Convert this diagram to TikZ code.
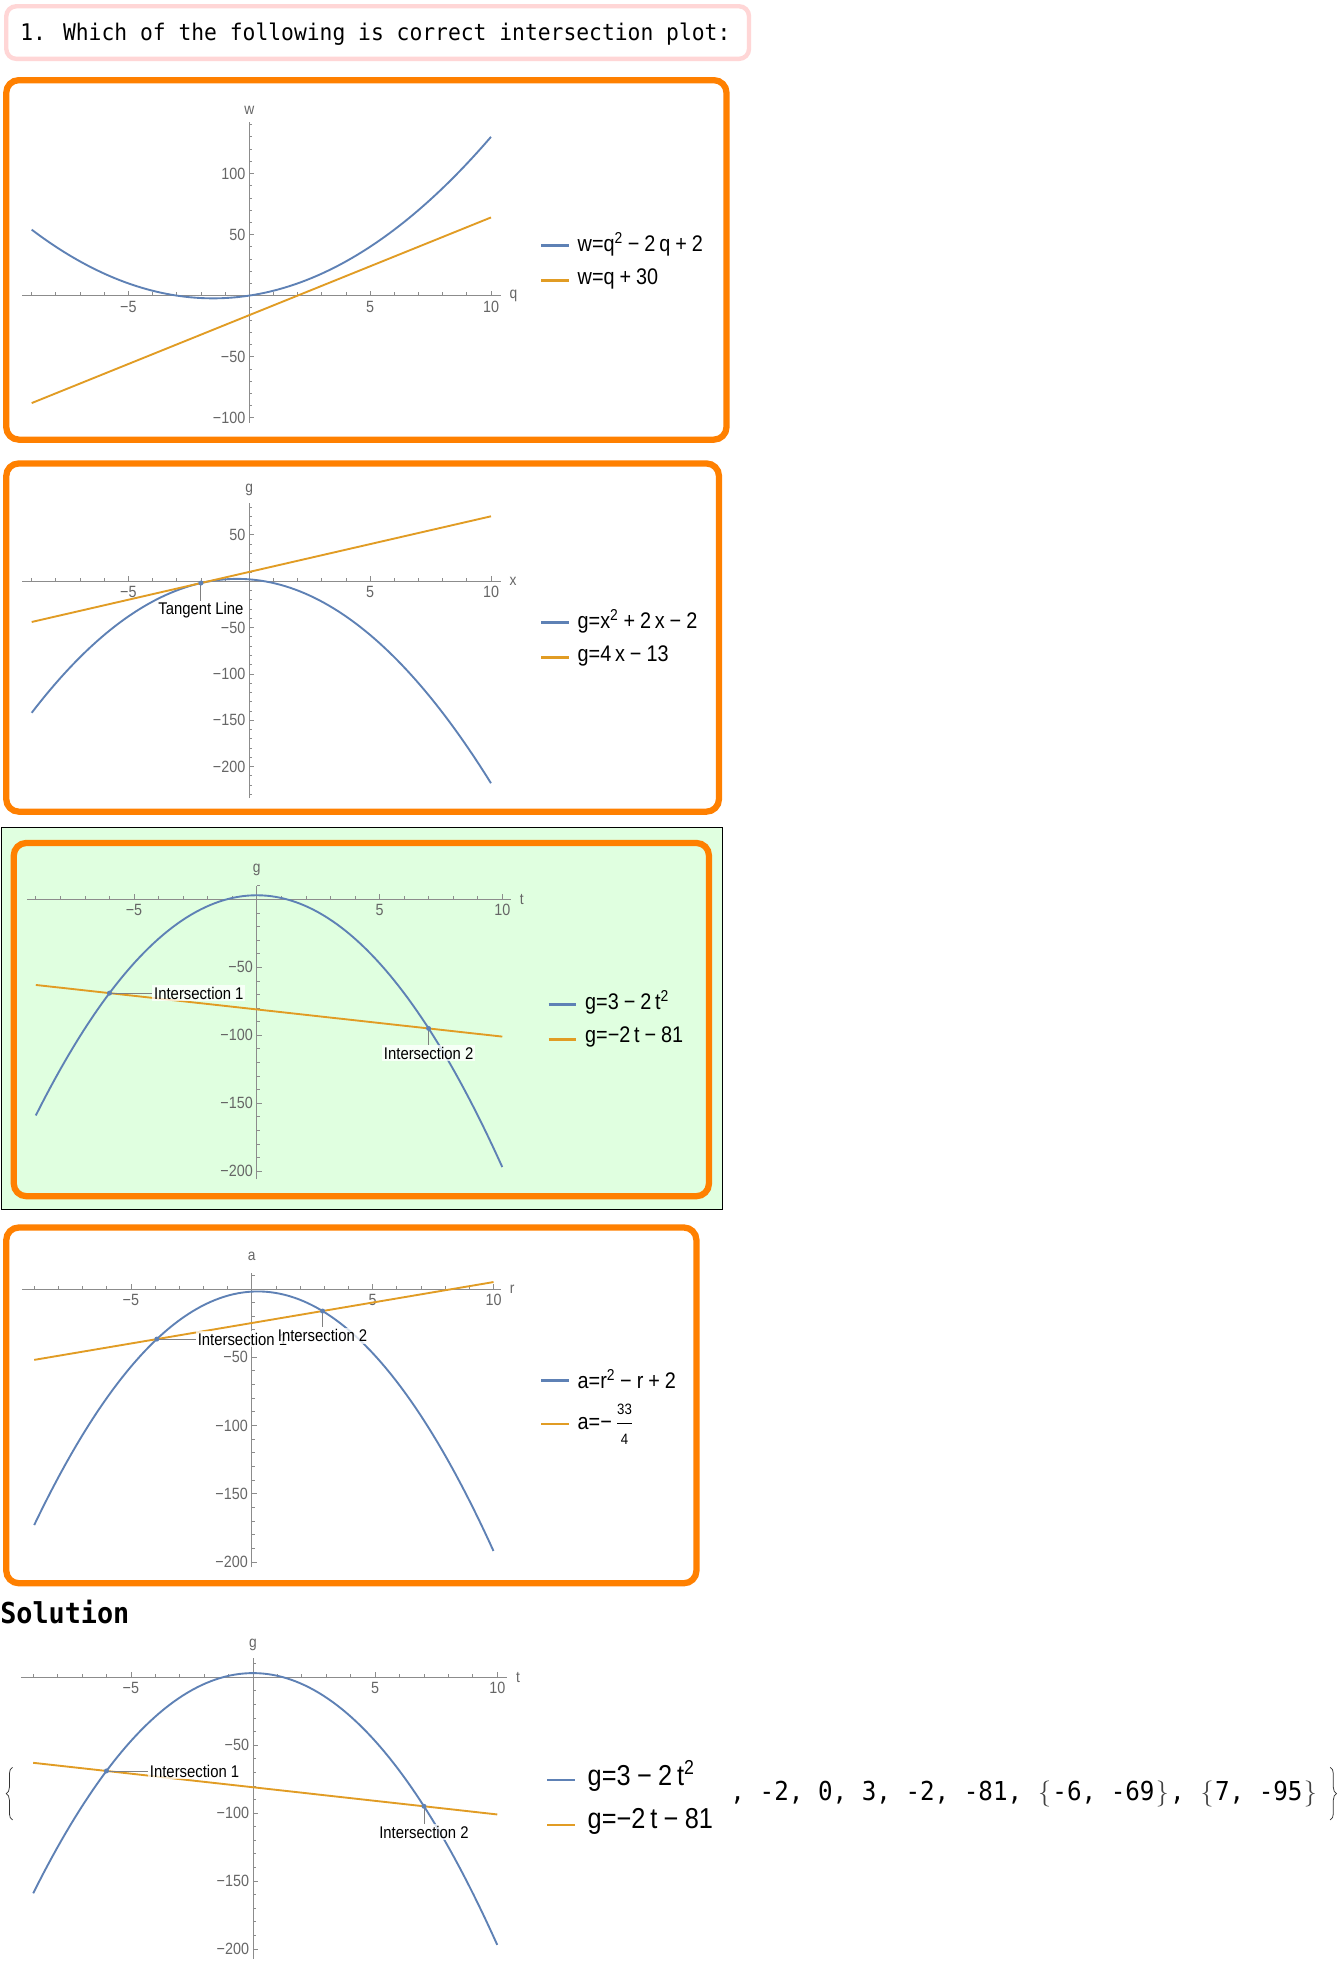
\documentclass[tikz,border=0pt]{standalone}
\usepackage{fontspec}
\usepackage{amsmath}
\usetikzlibrary{calc,decorations.pathreplacing}
\newfontfamily\myplot{Liberation Sans}[FakeStretch=0.88]
\newfontfamily\mymono{DejaVu Sans Mono}[FakeStretch=0.93]
\definecolor{mblue}{RGB}{94,129,181}
\definecolor{morange}{RGB}{225,156,36}
\definecolor{frameorange}{RGB}{255,128,0}
\definecolor{pinkframe}{RGB}{255,214,214}
\definecolor{greenbg}{RGB}{224,255,224}
\newcommand{\gp}{\hspace{0.22em}}
\newcommand{\lbr}{\makebox[0.6em]{\color{black!75}\rmfamily\textbraceleft}}
\newcommand{\rbr}{\makebox[0.6em]{\color{black!75}\rmfamily\textbraceright}}
\tikzset{
 axisline/.style={draw=black!45,line width=0.6pt},
 ticklbl/.style={font=\myplot\fontsize{13}{15}\selectfont,text=black!60,inner sep=1pt},
 axlbl/.style={font=\myplot\fontsize{12.5}{15}\selectfont,text=black!60,inner sep=1pt},
 bcurve/.style={draw=mblue,line width=1.5pt},
 ocurve/.style={draw=morange,line width=1.5pt},
 panelbox/.style={draw=frameorange,line width=5pt,rounded corners=10pt},
 leglbl/.style={font=\myplot\fontsize{18}{21}\selectfont,anchor=west,inner sep=0pt},
 bigleg/.style={font=\myplot\fontsize{23}{27}\selectfont,anchor=west,inner sep=0pt},
 bseg/.style={draw=mblue,line width=2pt},
 oseg/.style={draw=morange,line width=2pt},
 callout/.style={draw=black!50,line width=0.7pt},
 ilbl/.style={font=\myplot\fontsize{13.5}{15}\selectfont,fill=white,fill opacity=0.75,text opacity=1,inner sep=1.5pt},
 idot/.style={fill=mblue},
 bigbrace/.style={draw=black!80,line width=0.6pt,decorate,decoration={brace,amplitude=5pt}},
}
\begin{document}
\begin{tikzpicture}[x=1pt,y=-1pt]
\useasboundingbox (0,0) rectangle (1072,1568);
\fill[white] (0,0) rectangle (1072,1568);

% title
\draw[draw=pinkframe,line width=3.5pt,rounded corners=8pt,fill=white] (5,5) rectangle (598,47);
\node[anchor=west,inner sep=0pt,font=\mymono\fontsize{18.3}{22}\selectfont] (title) at (16,27) {1. Which of the following is correct intersection plot:};

% ---------------- Panel 1
\draw[panelbox] (5,64) rectangle (580,351);
\begin{scope}[shift={(199,236)},x=19.3pt,y=0.975pt]
\draw[axisline] (-9.4,0) -- (10.4,0);
\draw[axisline] (0,-104) -- (0,142);
\foreach \t in {-9,...,10} \draw[axisline] (\t,0) -- ++(0,2.5pt);
\foreach \t in {-5,5,10} \draw[axisline] (\t,0) -- ++(0,4pt);
\foreach \v in {-100,-90,...,140} \draw[axisline] (0,\v) -- ++(2.5pt,0);
\foreach \v in {-100,-50,50,100} \draw[axisline] (0,\v) -- ++(4pt,0);
\node[ticklbl,anchor=north,yshift=-3pt] (p1xa) at (-5,0) {−5};
\node[ticklbl,anchor=north,yshift=-3pt] (p1xb) at (5,0) {5};
\node[ticklbl,anchor=north,yshift=-3pt] (p1xc) at (10,0) {10};
\node[ticklbl,anchor=east,xshift=-2pt] (p1ya) at (0,100) {100};
\node[ticklbl,anchor=east,xshift=-2pt] (p1yb) at (0,50) {50};
\node[ticklbl,anchor=east,xshift=-2pt] (p1yc) at (0,-50) {−50};
\node[ticklbl,anchor=east,xshift=-2pt] (p1yd) at (0,-100) {−100};
\node[axlbl,anchor=south,yshift=5pt] (p1w) at (0,142) {w};
\node[axlbl,anchor=west,xshift=6pt] (p1q) at (10.4,0) {q};
\draw[bcurve] plot[domain=-9:10,samples=100] (\x,{\x*\x+3*\x});
\draw[ocurve] plot[domain=-9:10,samples=2] (\x,{8*\x-16});
\end{scope}
\draw[bseg] (432,196) -- (454,196);
\node[leglbl] (p1la) at (461,195) {w=q\textsuperscript{2}\gp−\gp2\,q\gp+\gp2};
\draw[oseg] (432,224) -- (454,224);
\node[leglbl] (p1lb) at (461,223) {w=q\gp+\gp30};

% ---------------- Panel 2
\draw[panelbox] (5,370) rectangle (574,648);
\begin{scope}[shift={(199,464)},x=19.3pt,y=0.74pt]
\draw[axisline] (-9.4,0) -- (10.4,0);
\draw[axisline] (0,-234) -- (0,84);
\foreach \t in {-9,...,10} \draw[axisline] (\t,0) -- ++(0,2.5pt);
\foreach \t in {-5,5,10} \draw[axisline] (\t,0) -- ++(0,4pt);
\foreach \v in {-230,-220,...,80} \draw[axisline] (0,\v) -- ++(2.5pt,0);
\foreach \v in {-200,-150,-100,-50,50} \draw[axisline] (0,\v) -- ++(4pt,0);
\node[ticklbl,anchor=north,yshift=-3pt] (p2xa) at (-5,0) {−5};
\node[ticklbl,anchor=north,yshift=-3pt] (p2xb) at (5,0) {5};
\node[ticklbl,anchor=north,yshift=-3pt] (p2xc) at (10,0) {10};
\node[ticklbl,anchor=east,xshift=-2pt] (p2ya) at (0,50) {50};
\node[ticklbl,anchor=east,xshift=-2pt] (p2yb) at (0,-50) {−50};
\node[ticklbl,anchor=east,xshift=-2pt] (p2yc) at (0,-100) {−100};
\node[ticklbl,anchor=east,xshift=-2pt] (p2yd) at (0,-150) {−150};
\node[ticklbl,anchor=east,xshift=-2pt] (p2ye) at (0,-200) {−200};
\node[axlbl,anchor=south,yshift=5pt] (p2g) at (0,84) {g};
\node[axlbl,anchor=west,xshift=6pt] (p2x) at (10.4,0) {x};
\draw[bcurve] plot[domain=-9:10,samples=100] (\x,{-2*\x*\x-2*\x+2});
\draw[ocurve] plot[domain=-9:10,samples=2] (\x,{6*\x+10});
\coordinate (p2t) at (-2,-2);
\node[ilbl,anchor=north,yshift=-14pt] (p2tl) at (p2t) {Tangent Line};
\draw[callout] (p2t) -- (p2tl.north);
\fill[idot] (p2t) circle (2pt);
\end{scope}
\draw[bseg] (432,497) -- (454,497);
\node[leglbl] (p2la) at (461,496) {g=x\textsuperscript{2}\gp+\gp2\,x\gp−\gp2};
\draw[oseg] (432,525) -- (454,525);
\node[leglbl] (p2lb) at (461,524) {g=4\,x\gp−\gp13};

% ---------------- Panel 3
\draw[black,line width=0.8pt,fill=greenbg] (1,661) rectangle (577,966);
\draw[panelbox,fill=greenbg] (11,673) rectangle (566,955);
\begin{scope}[shift={(205,718)},x=19.6pt,y=1.085pt]
\draw[axisline] (-9.35,0) -- (10.35,0);
\draw[axisline] (0,-206) -- (0,10);
\foreach \t in {-9,...,10} \draw[axisline] (\t,0) -- ++(0,2.5pt);
\foreach \t in {-5,5,10} \draw[axisline] (\t,0) -- ++(0,4pt);
\foreach \v in {-200,-190,...,10} \draw[axisline] (0,\v) -- ++(2.5pt,0);
\foreach \v in {-200,-150,-100,-50} \draw[axisline] (0,\v) -- ++(4pt,0);
\node[ticklbl,anchor=north,yshift=-3pt] (p3xa) at (-5,0) {−5};
\node[ticklbl,anchor=north,yshift=-3pt] (p3xb) at (5,0) {5};
\node[ticklbl,anchor=north,yshift=-3pt] (p3xc) at (10,0) {10};
\node[ticklbl,anchor=east,xshift=-2pt] (p3ya) at (0,-50) {−50};
\node[ticklbl,anchor=east,xshift=-2pt] (p3yb) at (0,-100) {−100};
\node[ticklbl,anchor=east,xshift=-2pt] (p3yc) at (0,-150) {−150};
\node[ticklbl,anchor=east,xshift=-2pt] (p3yd) at (0,-200) {−200};
\node[axlbl,anchor=south,yshift=7pt] (p3g) at (0,10) {g};
\node[axlbl,anchor=west,xshift=6pt] (p3t) at (10.35,0) {t};
\draw[bcurve] plot[domain=-9:10,samples=100] (\x,{3-2*\x*\x});
\draw[ocurve] plot[domain=-9:10,samples=2] (\x,{-2*\x-81});
\coordinate (p3i1) at (-6,-69);
\coordinate (p3i2) at (7,-95);
\node[ilbl,anchor=west,xshift=34pt] (p3l1) at (p3i1) {Intersection 1};
\draw[callout] (p3i1) -- (p3l1.west);
\node[ilbl,anchor=north,yshift=-13pt] (p3l2) at (p3i2) {Intersection 2};
\draw[callout] (p3i2) -- (p3l2.north);
\fill[idot] (p3i1) circle (2pt);
\fill[idot] (p3i2) circle (2pt);
\end{scope}
\draw[bseg] (438,802) -- (460,802);
\node[leglbl] (p3la) at (467,800) {g=3\gp−\gp2\,t\textsuperscript{2}};
\draw[oseg] (438,830) -- (460,830);
\node[leglbl] (p3lb) at (467,828) {g=−2\,t\gp−\gp81};

% ---------------- Panel 4
\draw[panelbox] (5,980) rectangle (556,1264);
\begin{scope}[shift={(201,1029)},x=19.3pt,y=1.09pt]
\draw[axisline] (-9.5,0) -- (10.3,0);
\draw[axisline] (0,-204) -- (0,12);
\foreach \t in {-9,...,10} \draw[axisline] (\t,0) -- ++(0,2.5pt);
\foreach \t in {-5,5,10} \draw[axisline] (\t,0) -- ++(0,4pt);
\foreach \v in {-200,-190,...,10} \draw[axisline] (0,\v) -- ++(2.5pt,0);
\foreach \v in {-200,-150,-100,-50} \draw[axisline] (0,\v) -- ++(4pt,0);
\node[ticklbl,anchor=north,yshift=-3pt] (p4xa) at (-5,0) {−5};
\node[ticklbl,anchor=north,yshift=-3pt] (p4xb) at (5,0) {5};
\node[ticklbl,anchor=north,yshift=-3pt] (p4xc) at (10,0) {10};
\node[ticklbl,anchor=east,xshift=-2pt] (p4ya) at (0,-50) {−50};
\node[ticklbl,anchor=east,xshift=-2pt] (p4yb) at (0,-100) {−100};
\node[ticklbl,anchor=east,xshift=-2pt] (p4yc) at (0,-150) {−150};
\node[ticklbl,anchor=east,xshift=-2pt] (p4yd) at (0,-200) {−200};
\node[axlbl,anchor=south,yshift=8pt] (p4a) at (0,12) {a};
\node[axlbl,anchor=west,xshift=6pt] (p4r) at (10.3,0) {r};
\draw[bcurve] plot[domain=-9:10,samples=100] (\x,{-2*\x*\x+\x-2});
\draw[ocurve] plot[domain=-9:10,samples=2] (\x,{3*\x-25});
\coordinate (p4i1) at (-3.928,-36.78);
\coordinate (p4i2) at (2.928,-16.22);
\node[ilbl,anchor=west,xshift=31pt] (p4l1) at (p4i1) {Intersection 1};
\draw[callout] (p4i1) -- (p4l1.west);
\node[ilbl,anchor=north,yshift=-13pt] (p4l2) at (p4i2) {Intersection 2};
\draw[callout] (p4i2) -- (p4l2.north);
\fill[idot] (p4i1) circle (2pt);
\fill[idot] (p4i2) circle (2pt);
\end{scope}
\draw[bseg] (432,1102) -- (454,1102);
\node[leglbl] (p4la) at (461,1101) {a=r\textsuperscript{2}\gp−\gp r\gp+\gp2};
\draw[oseg] (432,1137) -- (454,1137);
\node[leglbl] (p4lb) at (461,1137) {a=−\,$\dfrac{\text{\myplot\fontsize{12}{14}\selectfont 33}}{\text{\myplot\fontsize{12}{14}\selectfont 4}}$};

% ---------------- Solution
\node[anchor=west,inner sep=0pt,font=\mymono\bfseries\fontsize{23}{27}\selectfont] (sol) at (0,1287) {Solution};
\begin{scope}[shift={(202,1339)},x=19.5pt,y=1.085pt]
\draw[axisline] (-9.5,0) -- (10.4,0);
\draw[axisline] (0,-207) -- (0,14);
\foreach \t in {-9,...,10} \draw[axisline] (\t,0) -- ++(0,2.5pt);
\foreach \t in {-5,5,10} \draw[axisline] (\t,0) -- ++(0,4pt);
\foreach \v in {-200,-190,...,10} \draw[axisline] (0,\v) -- ++(2.5pt,0);
\foreach \v in {-200,-150,-100,-50} \draw[axisline] (0,\v) -- ++(4pt,0);
\node[ticklbl,anchor=north,yshift=-3pt] (p5xa) at (-5,0) {−5};
\node[ticklbl,anchor=north,yshift=-3pt] (p5xb) at (5,0) {5};
\node[ticklbl,anchor=north,yshift=-3pt] (p5xc) at (10,0) {10};
\node[ticklbl,anchor=east,xshift=-2pt] (p5ya) at (0,-50) {−50};
\node[ticklbl,anchor=east,xshift=-2pt] (p5yb) at (0,-100) {−100};
\node[ticklbl,anchor=east,xshift=-2pt] (p5yc) at (0,-150) {−150};
\node[ticklbl,anchor=east,xshift=-2pt] (p5yd) at (0,-200) {−200};
\node[axlbl,anchor=south,yshift=5pt] (p5g) at (0,14) {g};
\node[axlbl,anchor=west,xshift=6pt] (p5t) at (10.4,0) {t};
\draw[bcurve] plot[domain=-9:10,samples=100] (\x,{3-2*\x*\x});
\draw[ocurve] plot[domain=-9:10,samples=2] (\x,{-2*\x-81});
\coordinate (p5i1) at (-6,-69);
\coordinate (p5i2) at (7,-95);
\node[ilbl,anchor=west,xshift=33pt] (p5l1) at (p5i1) {Intersection 1};
\draw[callout] (p5i1) -- (p5l1.west);
\node[ilbl,anchor=north,yshift=-14pt] (p5l2) at (p5i2) {Intersection 2};
\draw[callout] (p5i2) -- (p5l2.north);
\fill[idot] (p5i1) circle (2pt);
\fill[idot] (p5i2) circle (2pt);
\end{scope}
\coordinate (lbb) at (10,1453);
\coordinate (lbt) at (10,1411);
\draw[bigbrace] (lbb) -- (lbt);
\draw[bseg] (437,1421) -- (459,1421);
\node[bigleg] (p5la) at (469,1418) {g=3\gp−\gp2\,t\textsuperscript{2}};
\draw[oseg] (437,1457) -- (459,1457);
\node[bigleg] (p5lb) at (469,1454) {g=−2\,t\gp−\gp81};
\node[anchor=west,inner sep=0pt,font=\mymono\fontsize{20.8}{24}\selectfont] (list) at (583,1432) {, -2, 0, 3, -2, -81, \lbr-6, -69\rbr, \lbr7, -95\rbr};
\coordinate (rbt) at (1062,1411);
\coordinate (rbb) at (1062,1453);
\draw[bigbrace] (rbt) -- (rbb);
\end{tikzpicture}
\end{document}
